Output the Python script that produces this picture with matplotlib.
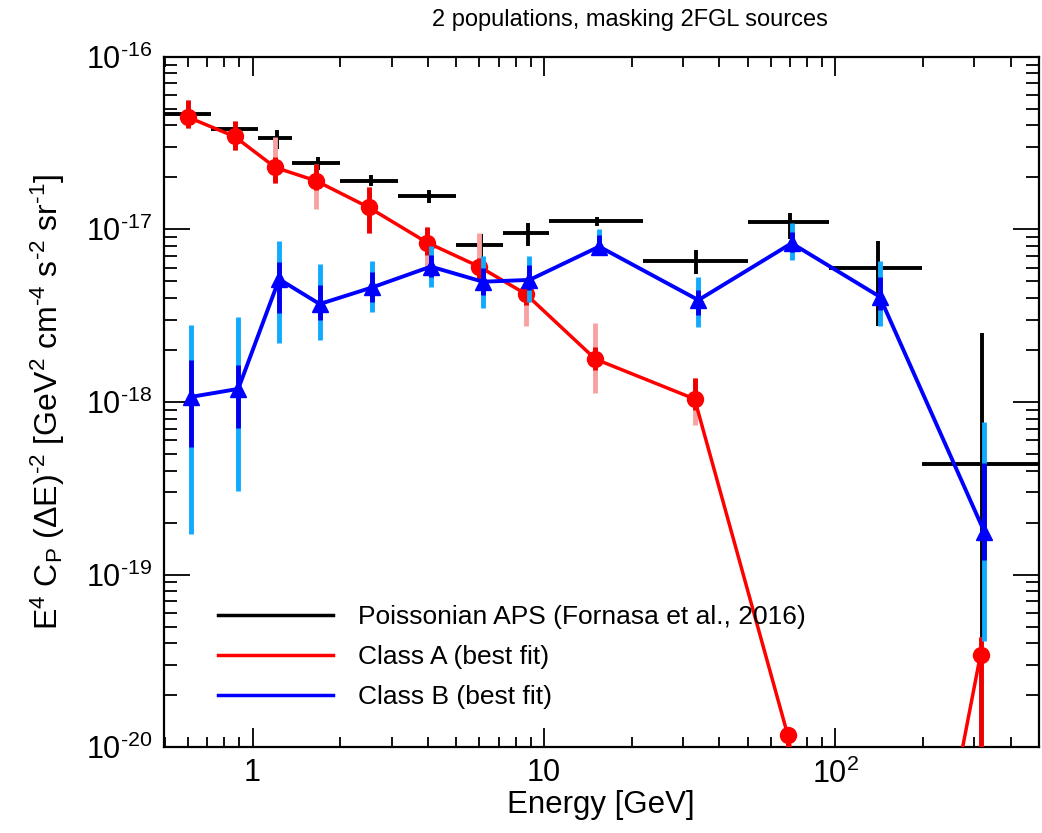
import numpy as np
import matplotlib.pyplot as plt
import matplotlib.ticker as mticker

plt.rcParams['font.family'] = ['Liberation Sans', 'DejaVu Sans']
plt.rcParams['mathtext.fontset'] = 'custom'
plt.rcParams['mathtext.rm'] = 'Liberation Sans'
plt.rcParams['mathtext.it'] = 'Liberation Sans:italic'
plt.rcParams['axes.unicode_minus'] = False

# --- energy bins (GeV) ---
bin_lo = np.array([0.5, 0.72, 1.04, 1.37, 1.99, 3.15, 5.0, 7.23, 10.45, 21.8, 50.0, 95.3, 199.0])
bin_hi = np.array([0.72, 1.04, 1.37, 1.99, 3.15, 5.0, 7.23, 10.45, 21.8, 50.0, 95.3, 199.0, 500.0])
e_mid = np.array([0.607, 0.880, 1.215, 1.675, 2.54, 4.03, 6.08, 8.79, 15.25, 33.4, 69.8, 140.0, 320.0])

# --- Poissonian APS (Fornasa et al., 2016) ---
aps = np.array([4.65e-17, 3.82e-17, 3.40e-17, 2.43e-17, 1.91e-17, 1.55e-17, 8.12e-18,
                9.49e-18, 1.12e-17, 6.58e-18, 1.10e-17, 6.0e-18, 4.36e-19])
aps_lo = np.array([4.3e-17, 3.5e-17, 2.9e-17, 2.2e-17, 1.79e-17, 1.42e-17, 6.8e-18,
                   8.0e-18, 1.05e-17, 5.5e-18, 8.8e-18, 2.75e-18, 4.0e-20])
aps_hi = np.array([5.0e-17, 4.1e-17, 3.75e-17, 2.62e-17, 2.05e-17, 1.68e-17, 9.4e-18,
                   1.09e-17, 1.18e-17, 7.6e-18, 1.25e-17, 8.5e-18, 2.52e-18])

# --- Class A (best fit) ---
cls_a = np.array([4.47e-17, 3.45e-17, 2.28e-17, 1.91e-17, 1.34e-17, 8.38e-18, 6.08e-18,
                  4.22e-18, 1.77e-18, 1.04e-18, 1.17e-20, 2.5e-23, 3.44e-20])
a_in_lo = np.array([3.87e-17, 2.89e-17, 1.86e-17, 1.69e-17, 9.53e-18, 7.10e-18, 5.09e-18,
                    3.64e-18, 1.53e-18, 8.96e-19, 1.0e-20, 2.5e-23, 1.0e-22])
a_in_hi = np.array([5.63e-17, 4.25e-17, 2.63e-17, 2.40e-17, 1.76e-17, 1.03e-17, 6.82e-18,
                    4.76e-18, 2.08e-18, 1.37e-18, 1.3e-20, 2.5e-23, 4.33e-20])
a_out_lo = np.array([3.87e-17, 2.89e-17, 1.86e-17, 1.31e-17, 9.53e-18, 5.44e-18, 5.09e-18,
                     2.75e-18, 1.12e-18, 7.34e-19, 1.0e-20, 2.5e-23, 1.0e-22])
a_out_hi = np.array([5.63e-17, 4.25e-17, 3.44e-17, 2.40e-17, 1.76e-17, 1.03e-17, 9.53e-18,
                     5.09e-18, 2.87e-18, 1.37e-18, 1.3e-20, 2.5e-23, 4.33e-20])

# --- Class B (best fit) ---
cls_b = np.array([1.07e-18, 1.19e-18, 5.14e-18, 3.69e-18, 4.61e-18, 6.08e-18, 4.97e-18,
                  5.09e-18, 7.94e-18, 3.89e-18, 8.30e-18, 4.07e-18, 1.77e-19])
b_in_lo = np.array([5.47e-19, 7.05e-19, 3.27e-18, 2.98e-18, 3.79e-18, 5.30e-18, 4.17e-18,
                    4.45e-18, 7.4e-18, 3.19e-18, 7.4e-18, 3.41e-18, 1.21e-19])
b_in_hi = np.array([1.75e-18, 1.64e-18, 6.47e-18, 4.76e-18, 5.66e-18, 7.10e-18, 6.0e-18,
                    6.2e-18, 9.3e-18, 4.45e-18, 9.66e-18, 5.30e-18, 4.42e-19])
b_out_lo = np.array([1.71e-19, 3.04e-19, 2.19e-18, 2.28e-18, 3.32e-18, 4.64e-18, 3.50e-18,
                     3.79e-18, 7.1e-18, 2.72e-18, 6.64e-18, 2.75e-18, 4.15e-20])
b_out_hi = np.array([2.79e-18, 3.10e-18, 8.57e-18, 6.30e-18, 6.56e-18, 8.0e-18, 7.0e-18,
                     7.02e-18, 1.0e-17, 5.30e-18, 1.09e-17, 6.56e-18, 7.64e-19])

y_ticks = [1e-20, 1e-19, 1e-18, 1e-17, 1e-16]
y_ticklabels = [r'10$^{\text{-}20}$', r'10$^{\text{-}19}$', r'10$^{\text{-}18}$',
                r'10$^{\text{-}17}$', r'10$^{\text{-}16}$']
x_ticks = [1, 10, 100]
x_ticklabels = ['1', '10', '10$^2$']

fig = plt.figure(figsize=(10.42, 8.33), dpi=100)
ax = fig.add_axes([0.157, 0.103, 0.84, 0.829])

# small horizontal offset between the two classes
e_a = e_mid / 1.015
e_b = e_mid * 1.015

# black APS bins
ax.errorbar(e_mid, aps, xerr=[e_mid - bin_lo, bin_hi - e_mid], yerr=[aps - aps_lo, aps_hi - aps],
            fmt='none', ecolor='black', elinewidth=2.8, capsize=0, zorder=2)

# class A
ax.errorbar(e_a, cls_a, yerr=[cls_a - a_out_lo, a_out_hi - cls_a], fmt='none',
            ecolor='#f7a1a1', elinewidth=3.5, capsize=0, zorder=3)
ax.errorbar(e_a, cls_a, yerr=[cls_a - a_in_lo, a_in_hi - cls_a], fmt='none',
            ecolor='#ee0000', elinewidth=3.5, capsize=0, zorder=3.1)
ax.plot(e_a, cls_a, color='red', lw=2.5, marker='o', ms=11.5, zorder=3.2)

# class B
ax.errorbar(e_b, cls_b, yerr=[cls_b - b_out_lo, b_out_hi - cls_b], fmt='none',
            ecolor='#10aaff', elinewidth=3.5, capsize=0, zorder=4)
ax.errorbar(e_b, cls_b, yerr=[cls_b - b_in_lo, b_in_hi - cls_b], fmt='none',
            ecolor='#0000ee', elinewidth=3.5, capsize=0, zorder=4.1)
ax.plot(e_b, cls_b, color='blue', lw=2.8, marker='^', ms=11, zorder=4.2)

ax.set_xscale('log')
ax.set_yscale('log')
ax.set_xlim(0.495, 500)
ax.set_ylim(1e-20, 1e-16)

ax.xaxis.set_major_locator(mticker.FixedLocator(x_ticks))
ax.xaxis.set_major_formatter(mticker.FixedFormatter(x_ticklabels))
ax.yaxis.set_major_locator(mticker.FixedLocator(y_ticks))
ax.yaxis.set_major_formatter(mticker.FixedFormatter(y_ticklabels))
ax.xaxis.set_minor_locator(mticker.LogLocator(base=10, subs=np.arange(2, 10), numticks=20))
ax.yaxis.set_minor_locator(mticker.LogLocator(base=10, subs=np.arange(2, 10), numticks=20))
ax.xaxis.set_minor_formatter(mticker.NullFormatter())
ax.yaxis.set_minor_formatter(mticker.NullFormatter())

ax.tick_params(which='both', direction='in', top=True, right=True, width=1.3, labelsize=22)
ax.tick_params(axis='x', which='major', length=14, pad=8)
ax.tick_params(axis='x', which='minor', length=7)
ax.tick_params(axis='y', which='major', length=19, pad=8)
ax.tick_params(axis='y', which='minor', length=9.5)
for s in ax.spines.values():
    s.set_linewidth(1.6)

ax.set_xlabel('Energy [GeV]', fontsize=22.5, labelpad=0)
ax.set_ylabel(r'E$^4$ C$_\mathrm{P}$ ($\Delta$E)$^{\text{-}2}$ [GeV$^2$ cm$^{\text{-}4}$ s$^{\text{-}2}$ sr$^{\text{-}1}$]',
              fontsize=23, labelpad=14)
fig.text(0.605, 0.976, '2 populations, masking 2FGL sources', ha='center', va='center', fontsize=17)

handles = [plt.Line2D([], [], color='black', lw=2.5),
           plt.Line2D([], [], color='red', lw=2.5),
           plt.Line2D([], [], color='blue', lw=2.5)]
labels = ['Poissonian APS (Fornasa et al., 2016)', 'Class A (best fit)', 'Class B (best fit)']
ax.legend(handles, labels, loc='lower left', bbox_to_anchor=(0.05, 0.04), frameon=False,
          fontsize=19, handlelength=4.35, handletextpad=0.95, labelspacing=0.6, borderaxespad=0)

fig.savefig('out.png', dpi=100)
